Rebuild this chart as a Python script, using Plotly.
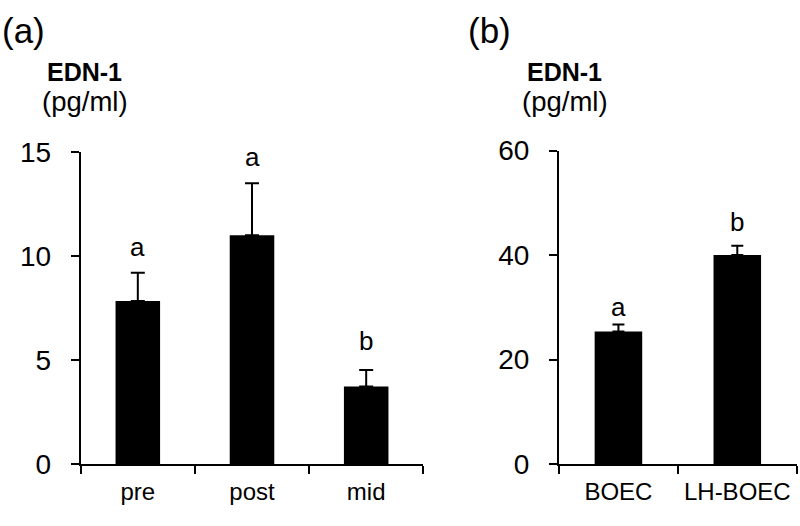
import plotly.graph_objects as go

# ---- data ----
cats_a = ["pre", "post", "mid"]
vals_a = [7.84, 11.0, 3.73]
err_a = [1.35, 2.5, 0.79]
letters_a = ["a", "a", "b"]

cats_b = ["BOEC", "LH-BOEC"]
vals_b = [25.4, 40.0]
err_b = [1.3, 1.8]
letters_b = ["a", "b"]

yticks_a = [0, 5, 10, 15]
yticks_b = [0, 20, 40, 60]

# ---- styles ----
FONT = "Liberation Sans, Arial, Helvetica, sans-serif"
shift_a = [9, 9, 12]
shift_b = [1, 7]

fig = go.Figure()
fig.add_trace(go.Bar(
    x=cats_a, y=vals_a, width=0.39,
    marker=dict(color="black", line=dict(width=0)),
    error_y=dict(type="data", array=err_a, arrayminus=[0] * len(err_a), symmetric=False,
                 color="black", thickness=2, width=7),
    xaxis="x", yaxis="y", showlegend=False))
fig.add_trace(go.Bar(
    x=cats_b, y=vals_b, width=0.40,
    marker=dict(color="black", line=dict(width=0)),
    error_y=dict(type="data", array=err_b, arrayminus=[0] * len(err_b), symmetric=False,
                 color="black", thickness=2, width=6),
    xaxis="x2", yaxis="y2", showlegend=False))

annotations = []
for c, v, e, t, s in zip(cats_a, vals_a, err_a, letters_a, shift_a):
    annotations.append(dict(x=c, y=v + e, xref="x", yref="y", text=t, showarrow=False,
                            yanchor="bottom", yshift=s, font=dict(size=26, color="black")))
for c, v, e, t, s in zip(cats_b, vals_b, err_b, letters_b, shift_b):
    annotations.append(dict(x=c, y=v + e, xref="x2", yref="y2", text=t, showarrow=False,
                            yanchor="bottom", yshift=s, font=dict(size=26, color="black")))

# panel headers
for lab, x in [("(a)", 0.0), ("(b)", 0.583)]:
    annotations.append(dict(x=x, y=0.969, xref="paper", yref="paper", text=lab, showarrow=False,
                            xanchor="left", yanchor="middle", font=dict(size=35, color="black")))
for x in [0.1056, 0.705]:
    annotations.append(dict(x=x, y=0.885, xref="paper", yref="paper", text="<b>EDN-1</b>",
                            showarrow=False, xanchor="center", yanchor="middle",
                            font=dict(size=25, color="black")))
    annotations.append(dict(x=x + 0.001, y=0.826, xref="paper", yref="paper", text="(pg/ml)",
                            showarrow=False, xanchor="center", yanchor="middle",
                            font=dict(size=27.5, color="black")))

xcommon = dict(type="category", showline=True, linecolor="black", linewidth=2,
               ticks="outside", tickson="boundaries", ticklen=8, tickwidth=2, tickcolor="black",
               tickfont=dict(size=24, color="black"), showgrid=False, zeroline=False,
               ticklabelstandoff=5)
ycommon = dict(showline=True, linecolor="black", linewidth=2, ticks="outside", ticklen=8,
               tickwidth=2, tickcolor="black", tickfont=dict(size=28, color="black"),
               showgrid=False, zeroline=False, ticklabelstandoff=14)

fig.update_layout(
    width=800, height=526,
    margin=dict(l=0, r=0, t=0, b=0),
    paper_bgcolor="white", plot_bgcolor="white",
    font=dict(family=FONT, color="black"),
    showlegend=False,
    xaxis=dict(domain=[0.1009, 0.5291], range=[-0.5, 2.5], anchor="y", **xcommon),
    yaxis=dict(domain=[0.0926, 0.7234], range=[0, 15], tickvals=yticks_a, anchor="x", **ycommon),
    xaxis2=dict(domain=[0.69875, 0.9959], range=[-0.5, 1.5], anchor="y2", **xcommon),
    yaxis2=dict(domain=[0.0926, 0.7262], range=[0, 60], tickvals=yticks_b, anchor="x2", **ycommon),
    annotations=annotations,
)

fig.write_html("out.html", post_script="document.body.style.margin='0px';",
               config={"displayModeBar": False})
